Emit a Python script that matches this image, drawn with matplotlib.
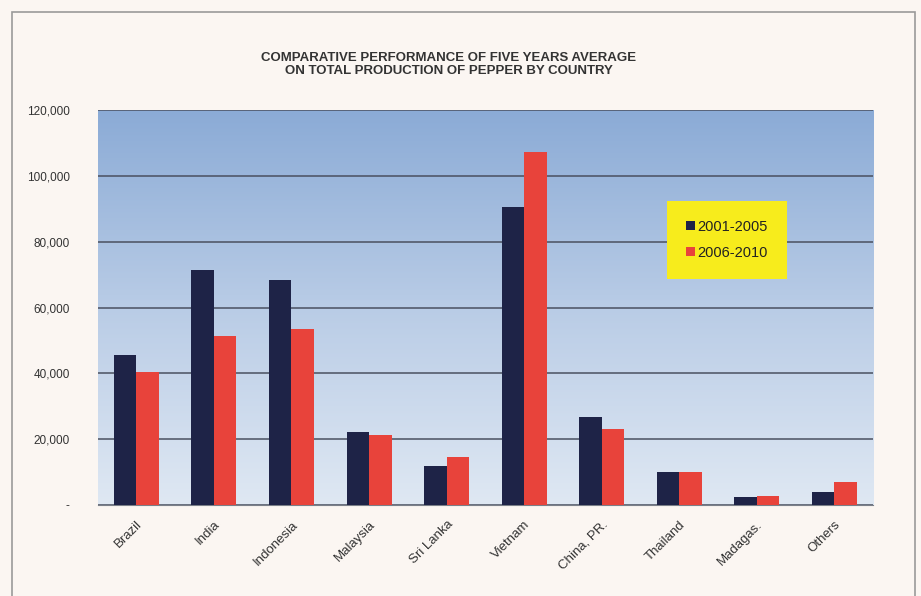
import numpy as np
import matplotlib
matplotlib.use("Agg")
import matplotlib.pyplot as plt
from matplotlib.patches import Rectangle

# --------------------------------------------------------------------------- #
# data (tonnes, five-year averages)
# --------------------------------------------------------------------------- #
COUNTRIES = ["Brazil", "India", "Indonesia", "Malaysia", "Sri Lanka",
             "Vietnam", "China, PR.", "Thailand", "Madagas.", "Others"]
AVG_2001_2005 = [45500, 71300, 68500, 22200, 11800, 90500, 26800, 9900, 2500, 4000]
AVG_2006_2010 = [40400, 51200, 53600, 21200, 14500, 107300, 23000, 10100, 2800, 6800]
SERIES_LABELS = ["2001-2005", "2006-2010"]
Y_TICKS = [0, 20000, 40000, 60000, 80000, 100000, 120000]
Y_TICKLABELS = ["-", "20,000", "40,000", "60,000", "80,000", "100,000", "120,000"]

C_NAVY, C_RED = "#1e2347", "#e8433b"
BG = "#fbf6f2"
INK = "#333333"

plt.rcParams["font.family"] = ["Liberation Sans", "DejaVu Sans"]

fig = plt.figure(figsize=(9.21, 5.96), dpi=100, facecolor=BG)
ax = fig.add_axes([0.106, 0.153, 0.842, 0.662])

# outer frame of the pasted chart
fig.patches.append(Rectangle((0.013, -0.05), 0.98, 1.03, transform=fig.transFigure,
                             fill=False, edgecolor="#9a9a9a", lw=1.2))

# blue vertical gradient behind the plot
grad = np.linspace(0, 1, 256).reshape(-1, 1)
cmap = matplotlib.colors.LinearSegmentedColormap.from_list(
    "bg", ["#dfe8f3", "#b9cce6", "#8babd6"])
ax.imshow(grad, aspect="auto", cmap=cmap, origin="lower",
          extent=(-0.5, len(COUNTRIES) - 0.5, 0, 120000), zorder=0)

x = np.arange(len(COUNTRIES))
w = 0.29
ax.bar(x - w / 2, AVG_2001_2005, w, color=C_NAVY, label=SERIES_LABELS[0], zorder=3)
ax.bar(x + w / 2, AVG_2006_2010, w, color=C_RED, label=SERIES_LABELS[1], zorder=3)

ax.set_xlim(-0.5, len(COUNTRIES) - 0.5)
ax.set_ylim(0, 120000)
ax.set_yticks(Y_TICKS)
ax.set_yticklabels(Y_TICKLABELS, fontsize=8.5, color=INK)
ax.set_xticks(x)
ax.set_xticklabels(COUNTRIES, rotation=45, ha="right", rotation_mode="anchor",
                   fontsize=9.5, color=INK)
ax.tick_params(length=0, pad=10)
ax.tick_params(axis="y", pad=20)
ax.grid(True, axis="y", color="#4a5060", lw=1.1, zorder=1)
for s in ["top", "right", "left"]:
    ax.spines[s].set_visible(False)
ax.spines["bottom"].set_color("#7a7f88")

leg = ax.legend(loc="upper left", bbox_to_anchor=(0.734, 0.77), frameon=True,
                fancybox=False, facecolor="#f7ec1c", edgecolor="#f7ec1c",
                framealpha=1, fontsize=10.5, handlelength=0.6, handleheight=0.6,
                handletextpad=0.2, labelspacing=0.8, borderpad=1.3,
                borderaxespad=0)
leg.get_frame().set_linewidth(0)
leg.set_zorder(5)
for t in leg.get_texts():
    t.set_color("#222222")

fig.text(0.487, 0.892, "COMPARATIVE PERFORMANCE OF FIVE YEARS AVERAGE\n"
         "ON TOTAL PRODUCTION OF PEPPER BY COUNTRY", ha="center", va="center",
         fontsize=9.5, fontweight="bold", color=INK, linespacing=1.15)

fig.savefig("out.png", dpi=100, facecolor=BG)
